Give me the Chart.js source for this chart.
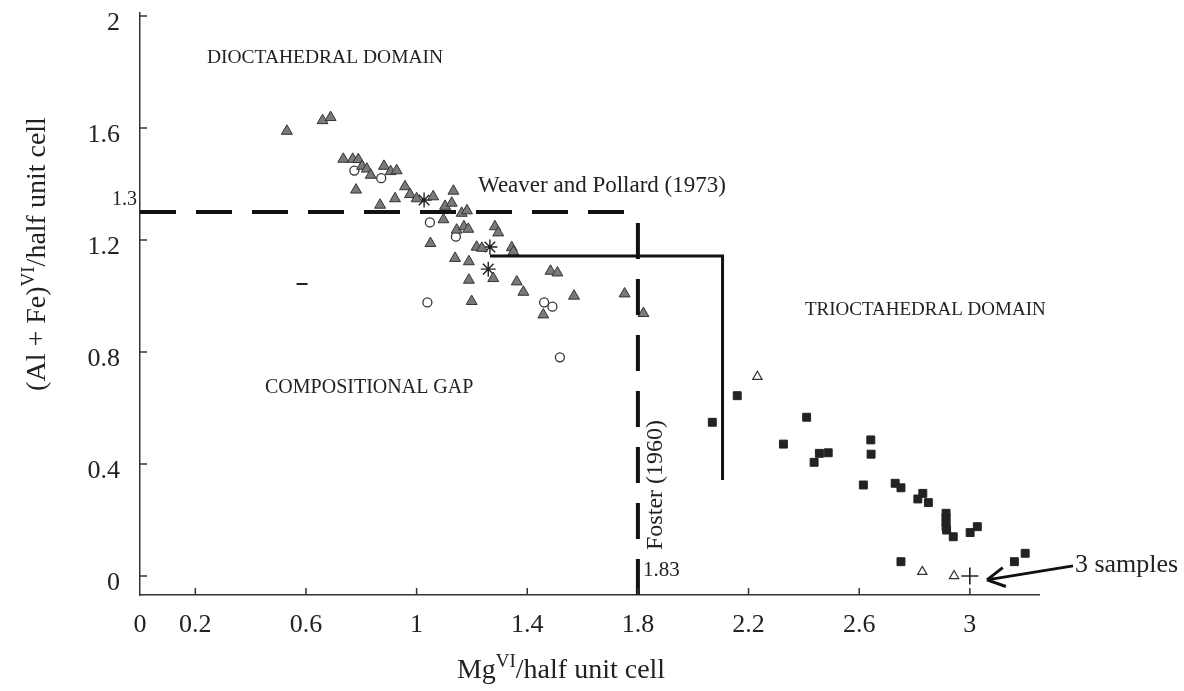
<!DOCTYPE html>
<html>
<head>
<meta charset="utf-8">
<script src="https://cdn.jsdelivr.net/npm/chart.js@4/dist/chart.umd.min.js"></script>
<style>
  body { margin: 0; background: #fff; }
  #wrap { width: 1184px; height: 691px; position: relative; }
</style>
</head>
<body>
<div id="wrap"><canvas id="grafico"></canvas></div>
<script>
// tick values
const xTicks = [0, 0.2, 0.6, 1, 1.4, 1.8, 2.2, 2.6, 3];
const yTicks = [0, 0.4, 0.8, 1.2, 1.6, 2];

// dioctahedral samples (grey triangles)
const triX = [0.531, 0.660, 0.689, 0.735, 0.769, 0.789, 0.803, 0.820, 0.834, 0.882, 0.906, 0.928,
  0.781, 0.868, 0.922, 0.958, 0.976, 1.000, 1.060, 1.103, 1.133, 1.127, 1.163, 1.182,
  1.097, 1.145, 1.171, 1.187, 1.050, 1.283, 1.295, 1.217, 1.236, 1.344, 1.350, 1.139,
  1.189, 1.277, 1.189, 1.362, 1.386, 1.199, 1.484, 1.509, 1.458, 1.569, 1.752, 1.820];
const triY = [1.589, 1.627, 1.638, 1.489, 1.489, 1.488, 1.464, 1.454, 1.432, 1.464, 1.445, 1.448,
  1.379, 1.325, 1.348, 1.391, 1.363, 1.348, 1.355, 1.321, 1.375, 1.332, 1.296, 1.305,
  1.273, 1.236, 1.248, 1.239, 1.188, 1.248, 1.226, 1.175, 1.171, 1.173, 1.158, 1.135,
  1.123, 1.063, 1.057, 1.051, 1.014, 0.981, 1.089, 1.083, 0.933, 1.000, 1.008, 0.938];

// open circles
const circX = [0.775, 0.872, 1.048, 1.142, 1.039, 1.461, 1.491, 1.518];
const circY = [1.448, 1.421, 1.263, 1.212, 0.977, 0.977, 0.962, 0.781];

// asterisks
const astX = [1.027, 1.265, 1.259];
const astY = [1.343, 1.175, 1.096];

// trioctahedral samples (black squares)
const sqX = [2.069, 2.159, 2.410, 2.326, 2.437, 2.456, 2.488, 2.642, 2.643, 2.615, 2.730, 2.751, 2.812,
  2.830, 2.850, 2.914, 2.914, 2.914, 2.914, 2.916, 2.940, 3.001, 3.027, 2.751, 3.161, 3.200];
const sqY = [0.549, 0.644, 0.567, 0.471, 0.406, 0.438, 0.440, 0.486, 0.435, 0.325, 0.331, 0.315, 0.275,
  0.295, 0.262, 0.224, 0.208, 0.192, 0.176, 0.164, 0.140, 0.155, 0.176, 0.051, 0.051, 0.081];

// open triangles
const otriX = [2.232, 2.828, 2.943];
const otriY = [0.712, 0.015, 0.000];

// the "3 samples" cross and the lone dash
const plusX = [3.0];
const plusY = [0];
const dashX = [0.586];
const dashY = [1.043];

// boundary lines
const weaverX = [0, 1.76];
const weaverY = [1.3, 1.3];
const fosterX = [1.80, 1.80];
const fosterY = [-0.068, 1.265];
const limX = [1.265, 2.106, 2.106];
const limY = [1.143, 1.143, 0.343];

function pares(xs, ys) {
  return xs.map((v, i) => ({ x: v, y: ys[i] }));
}

const SERIF = '"Liberation Serif", "Times New Roman", serif';
const TINTA = '#222';

function ponto(label, xs, ys, estilo, raio, fundo, borda, larg) {
  return {
    label: label, data: pares(xs, ys), pointStyle: estilo, pointRadius: raio,
    backgroundColor: fundo, borderColor: borda, borderWidth: larg, showLine: false, clip: false
  };
}

function linha(label, xs, ys, tracejado, larg) {
  return {
    label: label, data: pares(xs, ys), showLine: true, pointRadius: 0,
    borderColor: '#111', borderWidth: larg, borderDash: tracejado, borderCapStyle: 'butt',
    fill: false, clip: false
  };
}

// texts, ticks and arrow drawn on top of the chart
const extras = {
  id: 'extras',
  afterDraw(chart) {
    const ctx = chart.ctx;
    const sx = chart.scales.x, sy = chart.scales.y;
    const a = chart.chartArea;
    const X = v => sx.getPixelForValue(v);
    const Y = v => sy.getPixelForValue(v);
    ctx.save();

    // inward tick marks
    ctx.strokeStyle = '#333';
    ctx.lineWidth = 1.5;
    ctx.beginPath();
    yTicks.forEach(v => { ctx.moveTo(a.left, Y(v)); ctx.lineTo(a.left + 7, Y(v)); });
    xTicks.slice(1).forEach(v => { ctx.moveTo(X(v), a.bottom); ctx.lineTo(X(v), a.bottom - 7); });
    ctx.stroke();

    function texto(str, x, y, size, align) {
      ctx.font = size + 'px ' + SERIF;
      ctx.fillStyle = TINTA;
      ctx.textAlign = align || 'left';
      ctx.textBaseline = 'middle';
      ctx.fillText(str, x, y);
    }

    texto('DIOCTAHEDRAL DOMAIN', X(0.242), Y(1.85), 19.5);
    texto('Weaver and Pollard (1973)', X(1.222), Y(1.393), 23);
    texto('TRIOCTAHEDRAL DOMAIN', X(2.404), Y(0.95), 19);
    texto('COMPOSITIONAL GAP', X(0.452), Y(0.671), 20);
    texto('1.83', X(1.818), Y(0.021), 21);
    texto('1.3', a.left - 3, Y(1.343), 20, 'right');
    texto('3 samples', X(3.38), Y(0.039), 26);

    // Foster (1960), rotated
    ctx.save();
    ctx.translate(X(1.865), Y(0.325));
    ctx.rotate(-Math.PI / 2);
    texto('Foster (1960)', 0, 0, 24, 'center');
    ctx.restore();

    // arrow pointing at the cross
    const x0 = X(3.373), y0 = Y(0.036), x1 = X(3.062), y1 = Y(-0.014);
    ctx.strokeStyle = '#111';
    ctx.lineWidth = 3;
    ctx.beginPath();
    ctx.moveTo(x0, y0);
    ctx.lineTo(x1, y1);
    const ang = Math.atan2(y0 - y1, x0 - x1);
    [0.5, -0.5].forEach(d => {
      ctx.moveTo(x1, y1);
      ctx.lineTo(x1 + 20 * Math.cos(ang + d), y1 + 20 * Math.sin(ang + d));
    });
    ctx.stroke();

    // axis titles with superscripts
    function titulo(partes, size, supSize) {
      let total = 0;
      partes.forEach(p => {
        ctx.font = (p[1] ? supSize : size) + 'px ' + SERIF;
        total += ctx.measureText(p[0]).width;
      });
      let pos = -total / 2;
      ctx.textAlign = 'left';
      ctx.textBaseline = 'alphabetic';
      ctx.fillStyle = TINTA;
      partes.forEach(p => {
        ctx.font = (p[1] ? supSize : size) + 'px ' + SERIF;
        ctx.fillText(p[0], pos, p[1] ? -11 : 0);
        pos += ctx.measureText(p[0]).width;
      });
    }
    ctx.save();
    ctx.translate(561, 678);
    titulo([['Mg', false], ['VI', true], ['/half unit cell', false]], 28, 19);
    ctx.restore();
    ctx.save();
    ctx.translate(45, 254);
    ctx.rotate(-Math.PI / 2);
    titulo([['(Al + Fe)', false], ['VI', true], ['/half unit cell', false]], 28, 19);
    ctx.restore();

    ctx.restore();
  }
};

Chart.defaults.font.family = SERIF;
Chart.defaults.color = TINTA;

new Chart(document.getElementById('grafico'), {
  type: 'scatter',
  data: {
    datasets: [
      linha('Weaver and Pollard (1973)', weaverX, weaverY, [36, 20], 4),
      linha('Foster (1960)', fosterX, fosterY, [36, 20], 4),
      linha('limite', limX, limY, [], 3),
      ponto('dioctaedrico', triX, triY, 'triangle', 6.3, '#7a7a7a', '#333', 1),
      ponto('circulos', circX, circY, 'circle', 4.5, '#fff', '#333', 1.3),
      ponto('asteriscos', astX, astY, 'star', 7.5, '#222', '#222', 1.4),
      ponto('trioctaedrico', sqX, sqY, 'rect', 5.6, '#222', '#222', 1),
      ponto('triangulos abertos', otriX, otriY, 'triangle', 5.4, '#fff', '#333', 1.2),
      ponto('3 amostras', plusX, plusY, 'cross', 8.5, '#222', '#222', 1.6),
      ponto('traco', dashX, dashY, 'line', 5.5, '#222', '#222', 2)
    ]
  },
  options: {
    responsive: true,
    maintainAspectRatio: false,
    animation: false,
    devicePixelRatio: 1,
    layout: { padding: { left: 0, top: 13, right: 145, bottom: 0 } },
    plugins: { legend: { display: false }, tooltip: { enabled: false } },
    scales: {
      x: {
        type: 'linear', min: 0, max: 3.25,
        afterBuildTicks: s => { s.ticks = xTicks.map(v => ({ value: v })); },
        afterFit: s => { s.height = 96; s.paddingLeft = 0; s.paddingRight = 0; },
        grid: { display: false, drawTicks: false },
        border: { display: true, color: '#333', width: 1.5 },
        ticks: { font: { size: 26 }, padding: 15, maxRotation: 0, autoSkip: false, callback: v => String(v) }
      },
      y: {
        type: 'linear', min: -0.068, max: 2.011,
        afterBuildTicks: s => { s.ticks = yTicks.map(v => ({ value: v })); },
        afterFit: s => { s.width = 140; s.paddingTop = 0; s.paddingBottom = 0; },
        grid: { display: false, drawTicks: false },
        border: { display: true, color: '#333', width: 1.5 },
        ticks: { font: { size: 26 }, padding: 20, labelOffset: 7, autoSkip: false, callback: v => String(v) }
      }
    }
  },
  plugins: [extras]
});
</script>
</body>
</html>
